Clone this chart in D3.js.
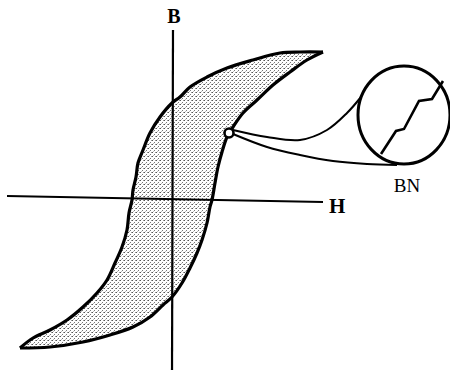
<!DOCTYPE html>
<html>
  <head>
    <meta charset="utf-8">
    <style>
      body { margin: 0; background: #fff; }
      text { font-family: "Liberation Serif", "DejaVu Serif", serif; fill: #000; }
    </style>
  </head>
  <body>
    <div id='graph'></div>
    <script src="https://cdn.jsdelivr.net/npm/d3@7"></script>
    <script>

    // hysteresis loop, H and B in arbitrary units (origin at the axes crossing)
    var upperBranch = [
      [15.1, 14.8], [12.8, 14.8], [10.8, 14.7], [8.1, 14.0], [5.5, 13.2],
      [3.5, 12.3], [1.8, 11.3], [0.8, 10.3], [0, 9.7], [-1.2, 8.3],
      [-2.2, 6.7], [-2.9, 5.0], [-3.4, 3.7], [-3.6, 2.3], [-3.9, 1.0],
      [-4.0, 0], [-4.3, -1.3], [-4.5, -3.0], [-5.0, -4.7], [-5.7, -6.3],
      [-6.5, -8.0], [-7.5, -9.3], [-8.9, -10.7], [-10.5, -12.0], [-12.2, -13.0],
      [-13.9, -13.8], [-15.2, -14.8]
    ];

    var lowerBranch = [
      [-15.2, -14.8], [-12.2, -14.7], [-8.9, -14.2], [-6.2, -13.5], [-3.9, -12.7],
      [-2.2, -11.7], [-0.9, -10.5], [0, -9.7], [1.0, -8.3], [1.8, -6.8],
      [2.5, -5.3], [3.0, -4.0], [3.5, -2.3], [3.8, -0.7], [4.0, 0],
      [4.3, 1.7], [4.6, 3.3], [5.0, 4.8], [5.5, 6.3], [6.1, 7.3],
      [7.1, 8.7], [8.5, 10.0], [10.1, 11.5], [11.8, 12.8], [13.5, 14.0],
      [15.1, 14.8]
    ];

    var hAxis = [[-16.5, 0.4], [15.1, -0.2]];
    var bAxis = [[0.1, 17.0], [0, -17.0]];

    var markPoint = [5.7, 6.7];
    var lensCenter = [23.2, 8.5];

    var leadUpper = [[6.1, 7.0], [9.5, 6.3], [12.8, 6.0], [15.5, 7.0], [17.5, 8.7], [18.9, 10.3]];
    var leadLower = [[6.1, 6.6], [9.5, 5.3], [12.8, 4.5], [16.1, 3.9], [19.5, 3.6], [22.5, 3.5]];

    // Barkhausen jumps seen in the lens
    var steps = [[20.9, 4.6], [22.4, 6.9], [23.2, 7.1], [24.7, 9.9], [26.0, 10.1], [27.1, 11.9]];

    var labels = [
      {text: 'B', at: [0.2, 17.7], bold: true, size: 20, anchor: 'middle'},
      {text: 'H', at: [15.7, -1.3], bold: true, size: 21, anchor: 'start'},
      {text: 'BN', at: [23.5, 0.8], bold: false, size: 19, anchor: 'middle'}
    ];

    var width = 450, height = 371;

    var x = d3.scaleLinear().domain([-16, 16]).range([12, 332]);
    var y = d3.scaleLinear().domain([-16, 16]).range([360, 40]);

    var svg = d3.select('#graph').append('svg')
        .attr('width', width)
        .attr('height', height);

    // stipple texture for the loop area
    var pat = svg.append('defs').append('pattern')
        .attr('id', 'stipple')
        .attr('patternUnits', 'userSpaceOnUse')
        .attr('width', 4)
        .attr('height', 4);
    pat.append('rect').attr('x', 0).attr('y', 0).attr('width', 1).attr('height', 1).attr('fill', '#555');
    pat.append('rect').attr('x', 2).attr('y', 2).attr('width', 1).attr('height', 1).attr('fill', '#777');
    pat.append('rect').attr('x', 3).attr('y', 0).attr('width', 1).attr('height', 1).attr('fill', '#999');
    pat.append('rect').attr('x', 1).attr('y', 3).attr('width', 1).attr('height', 1).attr('fill', '#bbb');

    var line = d3.line()
        .x(function(d) { return x(d[0]); })
        .y(function(d) { return y(d[1]); })
        .curve(d3.curveCatmullRom.alpha(0.5));

    var straight = d3.line()
        .x(function(d) { return x(d[0]); })
        .y(function(d) { return y(d[1]); });

    svg.append('path')
        .attr('d', line(upperBranch) + line(lowerBranch).replace(/^M/, 'L') + 'Z')
        .attr('fill', 'url(#stipple)')
        .attr('stroke', 'none');

    // axes
    svg.append('path').attr('d', straight(hAxis))
        .attr('stroke', '#000').attr('stroke-width', 2.2).attr('fill', 'none');
    svg.append('path').attr('d', straight(bAxis))
        .attr('stroke', '#000').attr('stroke-width', 2.2).attr('fill', 'none');

    // loop outline
    [upperBranch, lowerBranch].forEach(function(br) {
      svg.append('path')
          .attr('d', line(br))
          .attr('fill', 'none')
          .attr('stroke', '#000')
          .attr('stroke-width', 3.2)
          .attr('stroke-linejoin', 'miter');
    });

    // lead lines to the lens
    [leadUpper, leadLower].forEach(function(ld) {
      svg.append('path')
          .attr('d', line(ld))
          .attr('fill', 'none')
          .attr('stroke', '#000')
          .attr('stroke-width', 2);
    });

    svg.append('circle')
        .attr('cx', x(markPoint[0]))
        .attr('cy', y(markPoint[1]))
        .attr('r', 4.5)
        .attr('fill', '#fff')
        .attr('stroke', '#000')
        .attr('stroke-width', 2.6);

    svg.append('ellipse')
        .attr('cx', x(lensCenter[0]))
        .attr('cy', y(lensCenter[1]))
        .attr('rx', 46)
        .attr('ry', 49)
        .attr('fill', 'none')
        .attr('stroke', '#000')
        .attr('stroke-width', 3);

    svg.append('path')
        .attr('d', straight(steps))
        .attr('fill', 'none')
        .attr('stroke', '#000')
        .attr('stroke-width', 2.6)
        .attr('stroke-linejoin', 'miter');

    svg.selectAll('.lbl')
        .data(labels)
        .enter()
        .append('text')
        .attr('class', 'lbl')
        .attr('x', function(d) { return x(d.at[0]); })
        .attr('y', function(d) { return y(d.at[1]); })
        .attr('text-anchor', function(d) { return d.anchor; })
        .attr('font-size', function(d) { return d.size; })
        .attr('font-weight', function(d) { return d.bold ? 'bold' : 'normal'; })
        .text(function(d) { return d.text; });

    </script>
  </body>
</html>
